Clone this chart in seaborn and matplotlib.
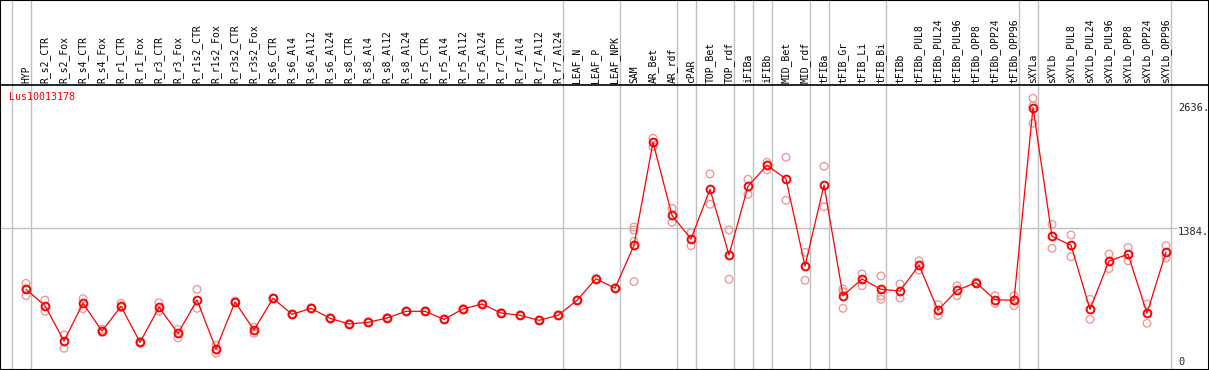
import numpy as np
import pandas as pd
import matplotlib
matplotlib.use("Agg")
import matplotlib.pyplot as plt
import seaborn as sns

# --- data ---
samples = ["HYP", "R_s2_CTR", "R_s2_Fox", "R_s4_CTR", "R_s4_Fox", "R_r1_CTR", "R_r1_Fox",
           "R_r3_CTR", "R_r3_Fox", "R_r1s2_CTR", "R_r1s2_Fox", "R_r3s2_CTR", "R_r3s2_Fox",
           "R_s6_CTR", "R_s6_Al4", "R_s6_Al12", "R_s6_Al24", "R_s8_CTR", "R_s8_Al4",
           "R_s8_Al12", "R_s8_Al24", "R_r5_CTR", "R_r5_Al4", "R_r5_Al12", "R_r5_Al24",
           "R_r7_CTR", "R_r7_Al4", "R_r7_Al12", "R_r7_Al24", "LEAF_N", "LEAF_P", "LEAF_NPK",
           "SAM", "AR_Bet", "AR_rdf", "cPAR", "TOP_Bet", "TOP_rdf", "iFIBa", "iFIBb",
           "MID_Bet", "MID_rdf", "tFIBa", "tFIB_Gr", "tFIB_Li", "tFIB_Bi", "tFIBb",
           "tFIBb_PUL8", "tFIBb_PUL24", "tFIBb_PUL96", "tFIBb_OPP8", "tFIBb_OPP24",
           "tFIBb_OPP96", "sXYLa", "sXYLb", "sXYLb_PUL8", "sXYLb_PUL24", "sXYLb_PUL96",
           "sXYLb_OPP8", "sXYLb_OPP24", "sXYLb_OPP96"]

means = [753, 583, 218, 608, 321, 577, 204, 567, 297, 642, 135, 622, 332,
         660, 494, 556, 453, 394, 411, 456, 525, 525, 442, 549, 601,
         508, 484, 432, 484, 639, 863, 764,
         1209, 2276, 1520, 1274, 1789, 1109, 1820, 2038, 1896, 995, 1834,
         687, 860, 753, 736, 1002, 536, 743, 822, 645, 639,
         2636, 1302, 1209, 546, 1046, 1116, 505, 1140]

replicates = [[815, 689, 755], [642, 525], [280, 142], [656, 552], [339, 308], [608, 563],
              [210, 198], [614, 525], [339, 249], [753, 556], [176, 90], [630, 615],
              [359, 297], [665, 655], [498, 490], [560, 552], [458, 448], [398, 390],
              [415, 407], [460, 452], [529, 521], [529, 521], [446, 438], [553, 545],
              [605, 597], [512, 504], [488, 480], [436, 428], [488, 480], [643, 635],
              [867, 859], [768, 760], [1399, 1368, 1250, 832], [2318, 2231], [1592, 1447],
              [1340, 1205], [1948, 1634], [1368, 857], [1893, 1737], [2069, 1989],
              [2121, 1675], [1136, 846], [2027, 1609], [756, 728, 556], [912, 790],
              [891, 684, 650], [808, 663], [1049, 953], [594, 480], [790, 687], [830, 815],
              [687, 608], [687, 583], [2732, 2655, 2473], [1427, 1178], [1316, 1091],
              [650, 442], [1119, 967], [1188, 1049], [601, 401], [1205, 1077]]

group_ends = [-1, 0, 28, 31, 34, 35, 37, 38, 39, 41, 42, 45, 52, 53, 60]
y_ticks = [0, 1384, 2636]
y_tick_labels = ["0", "1384.", "2636."]
gene = "Lus10013178"

df_mean = pd.DataFrame({"x": np.arange(len(samples)), "value": means})
df_rep = pd.DataFrame([(i, v) for i, vals in enumerate(replicates) for v in vals],
                      columns=["x", "value"])

# --- figure ---
sns.set_style("white")
plt.rcParams["font.family"] = ["DejaVu Sans Mono", "DejaVu Sans"]

fig = plt.figure(figsize=(12.09, 3.70), dpi=100)
ax = fig.add_axes([0, 0, 1, 1])

# pixel layout: column i at 26 + 19*i px, value 0 at 362 px, 1384 at 228 px
ax.set_xlim(-26 / 19, (1209 - 26) / 19)
ax.set_ylim(-8 * 10.36, 362 * 10.36)
header_y = (362 - 85) * 10.36

for g in group_ends:
    ax.axvline(g + 0.25, color="#c0c0c0", lw=1.0, zorder=1)
ax.hlines(1384, ax.get_xlim()[0], 60.6, color="#c0c0c0", lw=1.0, zorder=1)
ax.axhline(header_y, color="black", lw=1.2, zorder=2)

sns.scatterplot(data=df_rep, x="x", y="value", ax=ax, marker="o", s=30,
                facecolors="none", edgecolor="#f09a9a", linewidth=1.0, zorder=3)
sns.lineplot(data=df_mean, x="x", y="value", ax=ax, color="red", lw=0.9,
             marker="o", markersize=5.6, markerfacecolor="none",
             markeredgecolor="red", markeredgewidth=1.4, zorder=4)

for i, name in enumerate(samples):
    ax.text(i, header_y + 20, name, rotation=90, ha="center", va="bottom",
            fontsize=7, color="black")

ax.text((9 - 26) / 19, (362 - 97) * 10.36, gene, color="red", fontsize=7.2,
        ha="left", va="center")

for v, lab in zip(y_ticks, y_tick_labels):
    off = -35 if v == 1384 else 0
    ax.text((1178 - 26) / 19, v + off, lab, fontsize=7.5, ha="left", va="center")

ax.set_xlabel("")
ax.set_ylabel("")
ax.set_xticks([])
ax.set_yticks([])
for s in ax.spines.values():
    s.set_visible(True)
    s.set_color("black")
    s.set_linewidth(1.5)

fig.savefig("out.png", dpi=100)
